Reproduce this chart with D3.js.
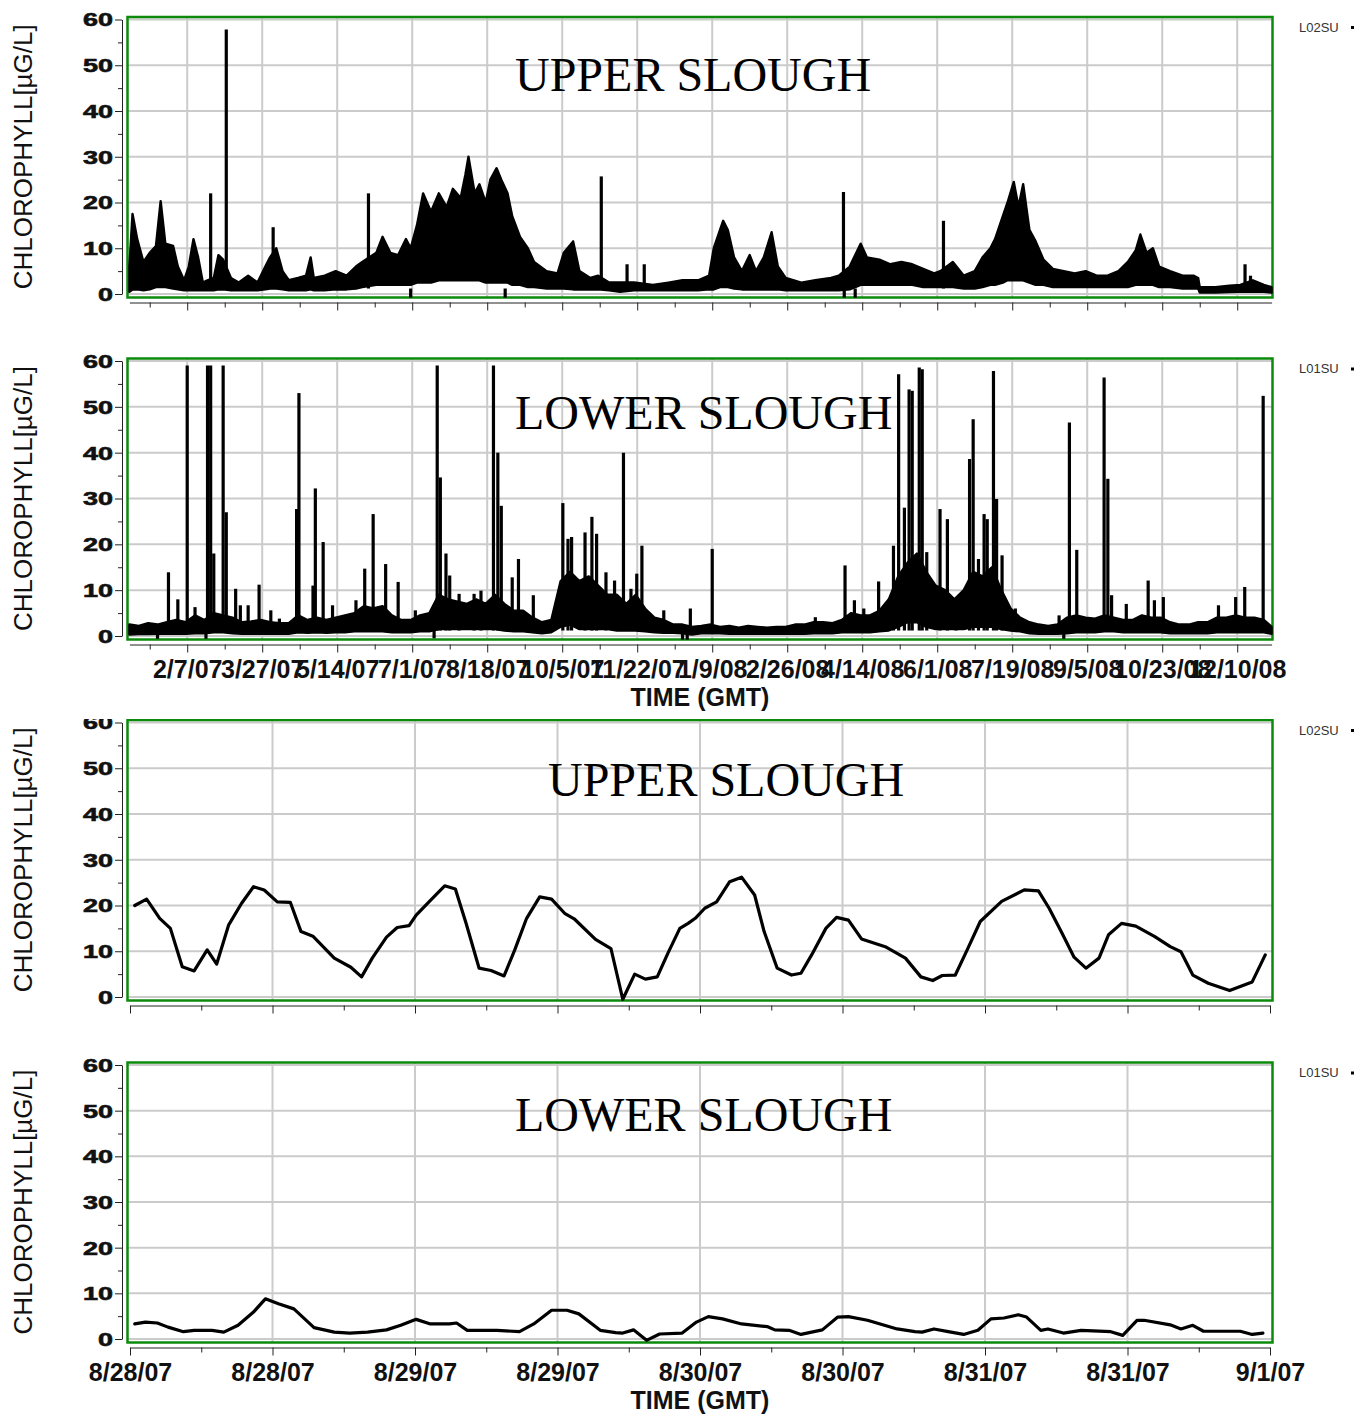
<!DOCTYPE html>
<html>
<head>
<meta charset="utf-8">
<script src="https://cdn.jsdelivr.net/npm/d3@7"></script>
<style>
  body { margin: 0; background: #fff; }
  svg { display: block; }
</style>
</head>
<body>
<svg id="chart" width="1355" height="1417"></svg>
<script>
// ---------------------------------------------------------------------------
// Chlorophyll records, upper and lower slough stations
// ---------------------------------------------------------------------------

// Value axis (µg/L)
const yTicks = [0, 10, 20, 30, 40, 50, 60];
const yMinorTicks = [5, 15, 25, 35, 45, 55];

// Two-year record: tick dates on the time axis
const longTickDates = ["2007-02-07", "2007-03-27", "2007-05-14", "2007-07-01", "2007-08-18",
  "2007-10-05", "2007-11-22", "2008-01-09", "2008-02-26", "2008-04-14", "2008-06-01",
  "2008-07-19", "2008-09-05", "2008-10-23", "2008-12-10"];

// Four-day record: tick hours after 28 Aug 2007 00:00 GMT
const shortTickHours = [0, 12, 24, 36, 48, 60, 72, 84, 96];
const shortMinorHours = [6, 18, 30, 42, 54, 66, 78, 90];

// L02SU, 2007-2008: daily range [day since 1 Jan 2007, daily low, daily high]
const upperRange = [[0,0.5,6],[2,1,17.5],[5,1,12],[9,0.8,7],[13,1,9],[17,1.5,10.5],[20,1.5,20.3],
  [23,1.5,11],[28,1.2,10.5],[31,1,6],[35,0.8,3],[38,0.8,6],[41,0.8,12],[44,0.8,8],[47,0.8,2.5],
  [50,0.8,3],[54,0.8,3.5],[57,1,8.5],[60,1,7.5],[65,0.8,3.5],[70,0.8,2.5],[76,0.8,4],[82,0.8,2.5],
  [87,1,6],[90,1.2,8],[94,1.2,10],[98,1,5],[102,0.8,3],[108,0.8,3.5],[113,0.8,4],[116,1,8],
  [118,0.8,3.5],[125,0.8,4],[132,1,5],[139,1,4],[145,1.2,6],[149,1.5,7],[158,2,9],[162,2,12.5],
  [167,2,9],[172,2,8.5],[177,2,12],[180,2,10],[184,2.5,15],[188,2.5,22],[193,2.5,18],[198,3,22],
  [203,3,19],[207,3,23],[212,3,21],[215,3,26],[217,3,30],[221,3,22],[224,3,24],[228,2.5,20],
  [231,2.5,25],[235,2.5,27.5],[238,2.5,25],[242,2.5,22],[245,2,17],[250,2,12.5],[255,1.5,10],
  [259,1.5,7],[267,1.2,5],[274,1.2,4.5],[278,1.2,9],[284,1,11.5],[288,1,5],[295,1,3.5],[300,1,4],
  [307,0.8,2.5],[314,0.5,2.5],[323,0.8,2.5],[335,0.8,2],[345,0.8,2.5],[354,0.8,3],[364,0.8,3],
  [371,1,4],[374,1,10],[378,1.5,14],[380,1.5,16],[383,1.5,14],[387,1.2,8],[392,1,5],[397,1,8.5],
  [401,1,5],[406,1,8],[411,1,13.5],[415,1,6],[420,0.8,3.5],[430,0.8,2.5],[439,0.8,3],[449,0.8,3.5],
  [454,0.8,4],[461,1,6],[468,2,11],[472,2,8],[480,2,7.5],[487,2,6.5],[494,2,7],[501,2,6.5],
  [508,1.5,5.5],[515,1.5,4.5],[519,1.5,5],[527,1.5,7],[534,1.2,4],[541,1.2,5],[546,1.5,8],
  [551,2,10],[554,2,12],[559,2.5,17],[562,3,20],[566,3,24.5],[569,3,19],[572,3,24],[576,2.5,14],
  [580,2,11.5],[585,2,7.5],[591,1.5,5.5],[598,1.5,5],[605,1.5,4.5],[612,1.5,5],[619,1.5,4],
  [626,1.5,4],[633,1.5,5],[639,1.5,7],[644,2,9.5],[647,2,13],[651,2,9],[655,2,10],[659,1.5,6],
  [666,1.5,5],[674,1.2,4],[681,1.2,4],[684,1.2,3.5],[685,0.3,1.5],[695,0.3,1.5],[704,0.4,1.8],
  [711,0.5,2],[719,0.5,3],[726,0.5,2],[731,0.3,1.5]];

// L02SU, 2007-2008: short excursions [day since 1 Jan 2007, value]
const upperSpikes = [[52,22],[62,57.8],[92,14.6],[153,22],[180,-0.8],[240.5,-0.8],[302,25.7],
  [318.5,6.5],[329.5,6.5],[457,22.3],[457.5,-0.8],[464.5,-0.8],[521,16],[714,6.5],[717.5,4]];

// L01SU, 2007-2008: daily range [day since 1 Jan 2007, daily low, daily high]
const lowerRange = [[0,0.3,2.5],[6,0.4,2.2],[12,0.4,2.8],[18,0.5,2.5],[24,0.5,3],[30,0.5,3.5],
  [36,0.5,3],[42,0.6,4.5],[48,0.6,3.5],[54,0.8,5],[60,0.8,4.5],[66,0.6,4],[72,0.5,3],[78,0.5,3.2],
  [84,0.5,3.5],[90,0.5,3],[96,0.5,2.8],[102,0.5,2.8],[108,0.8,4.5],[114,0.7,3.5],[120,0.8,4],
  [126,0.7,3.5],[132,0.8,4],[138,0.8,4.5],[144,1,5],[150,1,6.5],[156,1,6],[162,1,6.5],[168,0.8,4.5],
  [174,0.8,3.5],[180,0.8,3.5],[186,1,4.5],[192,1,5],[198,1.5,9],[204,1.5,8],[210,1.5,7.5],
  [216,1.5,7],[222,1.5,8],[228,1.5,7],[234,1.5,9],[240,1.2,7],[246,1,5.5],[252,1,5.5],[258,0.8,4],
  [264,0.6,3],[270,0.8,3.5],[276,2,12],[282,2.5,14],[288,1.5,12],[294,1.5,13],[300,1.5,11],
  [306,1.5,9],[312,1.2,9],[318,1.2,7],[324,1.2,9],[330,1,6],[336,0.8,4],[342,0.7,3.5],[348,0.7,2.5],
  [354,0.6,2.5],[360,0.3,2],[366,0.6,2.2],[372,0.6,2.5],[378,0.6,2],[384,0.5,2.2],[390,0.5,1.8],
  [396,0.5,2.2],[402,0.5,2],[408,0.5,1.8],[414,0.5,2],[420,0.5,2],[426,0.5,2.5],[432,0.5,2.5],
  [438,0.6,3],[444,0.6,3],[450,0.6,2.8],[456,0.8,3.5],[462,0.8,5],[468,0.8,4.5],[474,0.8,4.5],
  [480,1,5.5],[486,1.2,8],[492,2,13],[498,3,16],[504,3,18],[510,2,14],[516,1.5,11],[522,1.5,10],
  [528,1.5,8],[534,1.5,10],[540,2,14],[546,2,13],[552,2,15],[558,1.5,10],[564,1.2,6],[570,1,4],
  [576,0.6,3],[582,0.5,2.5],[588,0.5,2.2],[594,0.5,2.5],[600,0.6,4],[606,0.8,4.5],[612,0.8,4],
  [618,0.8,3.8],[624,1,4.5],[630,1,4],[636,0.8,3.5],[642,0.8,3.5],[648,0.8,4.5],[654,0.8,4],
  [660,0.8,4],[666,0.6,3],[672,0.6,2.5],[678,0.6,2.5],[684,0.6,3],[690,0.6,3],[696,0.8,4],
  [702,0.8,4],[708,0.8,4.5],[714,0.8,4],[720,0.8,4],[726,0.8,3.5],[731,0.5,2]];

// L01SU, 2007-2008: short excursions [day since 1 Jan 2007, value]
const lowerSpikes = [[18,-0.6],[25,13.9],[31,8],[37,59],[42,6.3],[49,-0.6],[50,59],[52,59],[54,18],
  [60,59],[62,27],[68,10.3],[71,6.7],[76,6.7],[83,11.2],[90.5,5.6],[96,3.8],[107,27.7],[108.5,53],
  [117.5,11],[119,32.2],[124,20.5],[130,6.7],[145,7.8],[150.6,14.7],[156,26.6],[164,15.7],[172,11.8],
  [183,5.6],[195,-0.5],[197,59],[199,34.6],[202.6,18],[205,13.2],[211,9.2],[220.6,9.2],[225,9.9],
  [233,59],[235.8,40],[238,28.4],[245,12.8],[249,16.8],[258.5,8.9],[277.4,29],[280.7,21.2],
  [283,21.6],[291.6,22.6],[296,26],[299,22.3],[305,13.9],[310.5,12.1],[316.2,40],[321,10.3],
  [324.7,13.6],[328,19.7],[342,5.6],[354,-0.8],[357,-0.8],[359,6],[373,19],[439,4.1],[458,15.4],
  [464,7.8],[470,6],[479.5,11.9],[489,19.7],[492.3,57.1],[496,28],[499,53.8],[501,53.5],
  [505.5,58.6],[507.4,58.2],[510.3,18.3],[518.8,27.7],[523.5,25.5],[529,8.1],[537.7,38.6],
  [540,47.3],[543.4,16.8],[547,26.6],[549,25.5],[553,57.8],[555,29.9],[558.5,17.6],[567,6],
  [595,4.5],[598,-0.6],[601.6,46.6],[606.3,18.8],[623.8,56.4],[626.2,34.3],[628.6,8.9],[638,7],
  [652,12.1],[656,7.8],[661.7,8.5],[697,6.7],[708,8.5],[713.8,10.7],[725.6,52.4]];

// L02SU, 28 Aug - 1 Sep 2007: [hours after 28 Aug 00:00 GMT, value]
const upperHourly = [[0.4,20.0],[1.4,21.4],[2.5,17.2],[3.4,15.0],[4.4,6.6],[5.4,5.7],[6.5,10.3],
  [7.3,7.2],[8.3,15.7],[9.4,20.5],[10.4,24.1],[11.3,23.4],[12.4,20.8],[13.5,20.7],[14.4,14.3],
  [15.4,13.3],[17.2,8.5],[18.6,6.5],[19.5,4.4],[20.4,8.5],[21.6,13.1],[22.5,15.2],[23.5,15.6],
  [24.1,17.9],[25.3,21.1],[26.5,24.3],[27.4,23.6],[28.3,16.1],[29.4,6.3],[30.4,5.8],[31.5,4.6],
  [32.4,10.3],[33.4,17.2],[34.5,21.9],[35.5,21.4],[36.6,18.3],[37.4,17.1],[39.2,12.6],[40.5,10.6],
  [41.5,-0.5],[42.5,5.0],[43.4,3.9],[44.4,4.4],[45.3,9.6],[46.3,15.0],[47.0,16.1],[47.6,17.2],
  [48.4,19.4],[49.4,20.8],[50.5,25.2],[51.5,26.2],[52.6,22.3],[53.4,14.3],[54.5,6.3],[55.7,4.8],
  [56.5,5.2],[57.4,9.2],[58.6,15.0],[59.5,17.4],[60.5,16.8],[61.6,12.7],[63.6,11.0],[65.3,8.5],
  [66.6,4.4],[67.6,3.6],[68.4,4.7],[69.5,4.8],[70.5,10.3],[71.6,16.5],[73.4,20.9],[75.3,23.4],
  [76.5,23.2],[77.4,19.4],[78.5,13.9],[79.5,8.7],[80.5,6.3],[81.6,8.5],[82.4,13.6],[83.5,16.1],
  [84.7,15.5],[86.3,13.2],[87.6,11.0],[88.5,9.9],[89.5,4.8],[90.8,3.0],[92.6,1.4],[94.5,3.3],
  [95.6,9.2]];

// L01SU, 28 Aug - 1 Sep 2007: [hours after 28 Aug 00:00 GMT, value]
const lowerHourly = [[0.4,3.3],[1.3,3.7],[2.3,3.5],[3.2,2.6],[4.5,1.6],[5.4,1.9],[6.9,1.9],[7.9,1.5],
  [9.1,3.0],[10.4,5.9],[11.4,8.8],[12.5,7.7],[13.8,6.6],[15.5,2.5],[17.2,1.5],[18.5,1.3],[20.0,1.5],
  [21.6,2.0],[22.8,3.0],[24.1,4.3],[25.3,3.3],[26.9,3.3],[27.5,3.5],[28.4,1.9],[30.9,1.9],[32.8,1.6],
  [34.0,3.3],[35.5,6.3],[36.8,6.3],[37.8,5.5],[39.6,1.9],[40.9,1.4],[41.5,1.3],[42.4,2.0],[43.5,-0.3],
  [44.6,1.1],[46.5,1.3],[47.7,3.7],[48.7,4.9],[49.9,4.4],[51.5,3.3],[53.7,2.7],[54.3,2.0],[55.5,1.9],
  [56.5,1.0],[58.3,2.0],[59.6,4.8],[60.5,4.9],[62.1,4.1],[64.6,2.2],[66.1,1.6],[66.7,1.5],[67.7,2.2],
  [68.9,1.6],[70.2,1.0],[71.4,1.9],[72.5,4.4],[73.6,4.6],[74.8,5.3],[75.5,4.8],[76.7,1.9],[77.3,2.2],
  [78.6,1.3],[80.1,1.9],[82.6,1.6],[83.6,0.8],[84.8,4.1],[85.4,4.1],[87.6,3.1],[88.5,2.2],[89.5,3.0],
  [90.4,1.7],[93.5,1.7],[94.5,1.0],[95.4,1.3]];

// ---------------------------------------------------------------------------
const DAY_MS = 864e5, HOUR_MS = 36e5;
const longStart = Date.UTC(2007, 0, 1), longEnd = Date.UTC(2009, 0, 1);
const shortStart = Date.UTC(2007, 7, 28), shortEnd = Date.UTC(2007, 8, 1);
const dayDate = d => new Date(longStart + d * DAY_MS);
const hourDate = h => new Date(shortStart + h * HOUR_MS);
const fmtDate = d3.utcFormat("%-m/%-d/%y");

const SANS = "'Liberation Sans', Arial, Helvetica, sans-serif";
const SERIF = "'Liberation Serif', 'Times New Roman', Times, serif";
const GRID = "#cbcbcb", FRAME = "#0b8a0b", INK = "#111";

const xLong = d3.scaleUtc().domain([new Date(longStart), new Date(longEnd)]).range([129.4, 1271.6]);
const xShort = d3.scaleUtc().domain([new Date(shortStart), new Date(shortEnd)]).range([130, 1270]);

const longMajor = longTickDates.map(s => new Date(s + "T00:00:00Z"));
const longMinor = longMajor.map(d => new Date(+d - 24 * DAY_MS));
const shortMajor = shortTickHours.map(hourDate);
const shortMinor = shortMinorHours.map(hourDate);

const panels = [
  { span: "long",  site: "L02SU", title: "UPPER SLOUGH", y60: 19.5, y0: 294,  titleX: 515, titleY: 90.5, labels: false, range: upperRange, spikes: upperSpikes },
  { span: "long",  site: "L01SU", title: "LOWER SLOUGH", y60: 361,  y0: 636,  titleX: 515, titleY: 428.5, labels: true, range: lowerRange, spikes: lowerSpikes },
  { span: "short", site: "L02SU", title: "UPPER SLOUGH", y60: 722.5, y0: 997, titleX: 548, titleY: 796, labels: false, series: upperHourly, clipTop: 719 },
  { span: "short", site: "L01SU", title: "LOWER SLOUGH", y60: 1065, y0: 1339, titleX: 515, titleY: 1131, labels: true, series: lowerHourly }
];

const svg = d3.select("#chart");
svg.append("rect").attr("width", 1355).attr("height", 1417).attr("fill", "#fff");
const defs = svg.append("defs");

panels.forEach((p, i) => {
  const x = p.span === "long" ? xLong : xShort;
  const major = p.span === "long" ? longMajor : shortMajor;
  const minor = p.span === "long" ? longMinor : shortMinor;
  const y = d3.scaleLinear().domain([0, 60]).range([p.y0, p.y60]);

  const g = svg.append("g");
  if (p.clipTop != null) {
    defs.append("clipPath").attr("id", "clip" + i)
      .append("rect").attr("x", 0).attr("y", p.clipTop).attr("width", 1355).attr("height", 400);
    g.attr("clip-path", `url(#clip${i})`);
  }

  const boxLeft = 127.5, boxRight = 1272.5;
  const boxTop = p.y60 - 2.5, boxBottom = p.y0 + 3.5;

  // plot background and grid
  g.append("rect").attr("x", boxLeft).attr("y", boxTop)
    .attr("width", boxRight - boxLeft).attr("height", boxBottom - boxTop).attr("fill", "#fff");
  g.append("g").selectAll("line").data(yTicks).join("line")
    .attr("x1", boxLeft).attr("x2", boxRight)
    .attr("y1", d => y(d)).attr("y2", d => y(d))
    .attr("stroke", GRID).attr("stroke-width", 2);
  g.append("g").selectAll("line").data(major.filter(d => x(d) > boxLeft + 4 && x(d) < boxRight - 4)).join("line")
    .attr("x1", d => x(d)).attr("x2", d => x(d))
    .attr("y1", boxTop).attr("y2", boxBottom)
    .attr("stroke", GRID).attr("stroke-width", 2);

  // frame
  g.append("rect").attr("x", boxLeft).attr("y", boxTop)
    .attr("width", boxRight - boxLeft).attr("height", boxBottom - boxTop)
    .attr("fill", "none").attr("stroke", FRAME).attr("stroke-width", 2.5);

  // value axis
  const yAxis = g.append("g").attr("transform", "translate(122,0)")
    .call(d3.axisLeft(y).tickValues(yTicks).tickSize(7).tickSizeOuter(0).tickPadding(3));
  yAxis.select(".domain").attr("stroke", "#222");
  yAxis.selectAll(".tick line").attr("stroke", "#222");
  yAxis.selectAll("text")
    .attr("font-family", SANS).attr("font-weight", "bold").attr("font-size", 18)
    .attr("fill", INK).attr("stroke", INK).attr("stroke-width", 0.6)
    .attr("x", -9).attr("dy", "0.36em")
    .attr("textLength", d => String(d).length * 15).attr("lengthAdjust", "spacingAndGlyphs");
  const yMinor = g.append("g").attr("transform", "translate(122,0)")
    .call(d3.axisLeft(y).tickValues(yMinorTicks).tickSize(4).tickFormat(""));
  yMinor.select(".domain").remove();
  yMinor.selectAll(".tick line").attr("stroke", "#222");

  // time axis
  const axisY = p.y0 + 8.5;
  const xAxis = g.append("g").attr("transform", `translate(0,${axisY})`)
    .call(d3.axisBottom(x).tickValues(major).tickSize(8).tickSizeOuter(0)
      .tickFormat(p.labels ? fmtDate : ""));
  xAxis.select(".domain").attr("stroke", "#222");
  xAxis.selectAll(".tick line").attr("stroke", "#222");
  xAxis.selectAll("text")
    .attr("font-family", SANS).attr("font-weight", "bold").attr("font-size", 25)
    .attr("fill", INK).attr("y", 33.5).attr("dy", 0);
  const xMinor = g.append("g").attr("transform", `translate(0,${axisY})`)
    .call(d3.axisBottom(x).tickValues(minor).tickSize(5).tickFormat(""));
  xMinor.select(".domain").remove();
  xMinor.selectAll(".tick line").attr("stroke", "#222");

  if (p.labels) {
    g.append("text").attr("x", 700).attr("y", axisY + 61.5)
      .attr("text-anchor", "middle").attr("font-family", SANS).attr("font-weight", "bold")
      .attr("font-size", 25).attr("fill", INK).text("TIME (GMT)");
  }

  // data
  const data = g.append("g");
  if (p.span === "long") {
    const band = d3.area()
      .x(d => x(dayDate(d[0]))).y0(d => y(d[1])).y1(d => y(d[2]));
    data.append("path").attr("d", band(p.range))
      .attr("fill", "#000").attr("stroke", "#000").attr("stroke-width", 2.4)
      .attr("stroke-linejoin", "round");
    const spikeLine = d3.line();
    data.selectAll("path.spike").data(p.spikes).join("path").attr("class", "spike")
      .attr("d", d => spikeLine([[x(dayDate(d[0])), y(1.2)], [x(dayDate(d[0])), y(d[1])]]))
      .attr("stroke", "#000").attr("stroke-width", 3.2).attr("fill", "none");
  } else {
    const line = d3.line().x(d => x(hourDate(d[0]))).y(d => y(d[1]));
    data.append("path").attr("d", line(p.series))
      .attr("fill", "none").attr("stroke", "#000").attr("stroke-width", 3.2)
      .attr("stroke-linejoin", "round").attr("stroke-linecap", "round");
  }

  // station title inside the plot
  g.append("text").attr("x", p.titleX).attr("y", p.titleY)
    .attr("font-family", SERIF).attr("font-size", 48).attr("fill", "#000").text(p.title);

  // value axis title
  g.append("text")
    .attr("transform", `translate(32,${(p.y0 + p.y60) / 2}) rotate(-90)`)
    .attr("text-anchor", "middle").attr("font-family", SANS).attr("font-size", 26)
    .attr("fill", INK).text("CHLOROPHYLL[µG/L]");

  // station key
  g.append("text").attr("x", 1299).attr("y", p.y60 + 12)
    .attr("font-family", SANS).attr("font-size", 13).attr("fill", "#333").text(p.site);
  g.append("rect").attr("x", 1351).attr("y", p.y60 + 6.5).attr("width", 3).attr("height", 3).attr("fill", "#000");
});
</script>
</body>
</html>
